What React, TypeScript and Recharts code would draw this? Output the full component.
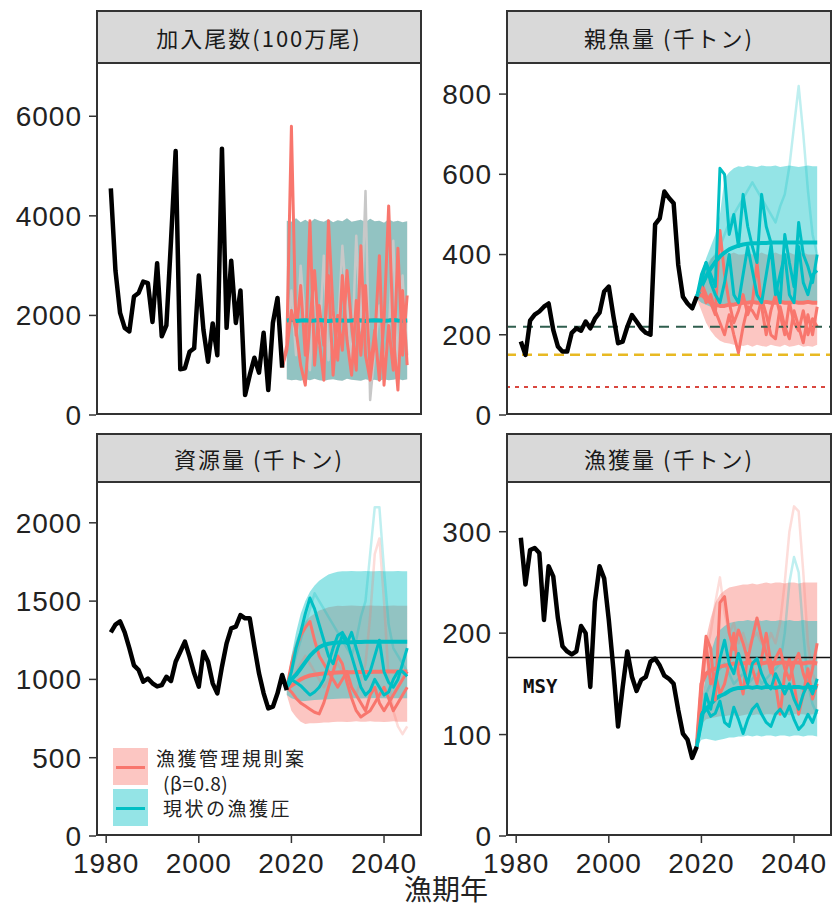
import React from "react";
import { ComposedChart, Line, Area, XAxis, YAxis, ReferenceLine } from "recharts";

const RED = "#F8766D";
const CYAN = "#00BFC4";
const SANS = "'Liberation Sans', Arial, sans-serif";
const JP = "'Noto Sans CJK JP', 'Noto Sans CJK SC', sans-serif";

const HIST_FROM = 1981;
const PROJ_FROM = 2019;

// 加入尾数 (100万尾)
const recHist = [4550, 2900, 2050, 1750, 1680, 2380, 2450, 2680, 2650, 1870, 3050, 1580, 1800, 3500, 5300, 920, 940, 1270, 1340, 2800, 1710, 1070, 1840, 1200, 5350, 1750, 3100, 1850, 2500, 400, 800, 1150, 850, 1650, 500, 1850, 2350, 950];
const recBandHi = [3900, 3880, 3950, 3870, 3920, 3860, 3940, 3900, 3880, 3930, 3870, 3910, 3890, 3950, 3880, 3900, 3920, 3870, 3940, 3890, 3900, 3860, 3930, 3880, 3900, 3870, 3890];
const recBandLo = [720, 700, 710, 690, 720, 700, 730, 700, 690, 710, 720, 700, 690, 730, 710, 700, 690, 720, 700, 710, 690, 720, 700, 710, 730, 700, 720];
const recMed = [1900, 1910, 1890, 1900, 1905, 1895, 1900, 1910, 1900, 1890, 1900, 1905, 1900, 1895, 1900, 1910, 1900, 1890, 1900, 1905, 1900, 1895, 1900, 1910, 1900, 1895, 1900];
const recRedUnder = [950, 1400, 5800, 1600, 2600, 1200, 3900, 1000, 2200, 1400, 2800, 800, 2000, 1300, 2900, 1800, 900, 3400, 1200, 700, 1500, 3200, 600, 1800, 900, 3350, 1200, 2400]; // from 2018
const recRedTop = [950, 1300, 2100, 1700, 1000, 600, 1900, 2900, 1500, 700, 3900, 2100, 1100, 2800, 1500, 800, 2300, 1200, 2600, 900, 1700, 700, 1900, 4200, 1600, 500, 2500, 1000]; // from 2018
const recFaint = [1500, 2500, 1200, 3000, 1800, 900, 2600, 1400, 3200, 1100, 2000, 1600, 3400, 2200, 1000, 3600, 1700, 4500, 300, 1300, 2200, 1000, 1600, 3500, 900, 2800, 1200];

// 親魚量 (千トン)
const ssbHist = [183, 150, 235, 250, 258, 270, 278, 212, 171, 158, 158, 205, 216, 210, 233, 216, 240, 255, 308, 320, 246, 179, 183, 220, 249, 233, 216, 205, 200, 475, 490, 557, 541, 528, 374, 295, 278, 266, 295];
const ssbRedHi = [300, 340, 370, 390, 400, 400, 405, 400, 405, 400, 400, 405, 400, 400, 405, 400, 400, 405, 400, 400, 405, 400, 400, 405, 400, 400, 400];
const ssbRedLo = [290, 260, 230, 210, 195, 185, 180, 178, 175, 175, 172, 175, 170, 175, 172, 170, 175, 172, 170, 175, 170, 172, 175, 170, 172, 170, 175];
const ssbCyanHi = [300, 350, 390, 420, 450, 500, 590, 605, 615, 620, 618, 622, 620, 618, 622, 620, 620, 622, 618, 620, 622, 620, 618, 620, 622, 620, 620];
const ssbCyanLo = [290, 280, 275, 270, 268, 270, 272, 275, 275, 278, 280, 280, 282, 280, 280, 282, 280, 280, 282, 280, 280, 282, 280, 280, 282, 280, 280];
const ssbRedMed = [295, 300, 290, 280, 275, 272, 272, 275, 275, 278, 280, 280, 282, 280, 280, 282, 280, 280, 282, 280, 280, 282, 280, 280, 282, 280, 280];
const ssbCyanMed = [295, 320, 345, 365, 382, 395, 405, 413, 418, 422, 425, 427, 428, 428, 429, 429, 430, 430, 430, 430, 430, 430, 430, 430, 430, 430, 430];
const ssbRedUnder = [295, 330, 300, 280, 250, 460, 350, 280, 230, 260, 300, 250, 280, 380, 270, 200, 260, 300, 250, 200, 280, 230, 210, 260, 200, 240, 220];
const ssbRedTop = [295, 320, 280, 300, 260, 230, 200, 250, 200, 155, 220, 270, 260, 240, 290, 250, 200, 190, 270, 220, 190, 260, 220, 180, 250, 200, 270];
const ssbCyanA = [295, 330, 380, 350, 320, 615, 600, 450, 500, 420, 550, 470, 420, 380, 550, 470, 430, 330, 280, 450, 380, 320, 480, 400, 370, 330, 400];
const ssbCyanB = [295, 350, 380, 330, 300, 280, 330, 400, 300, 280, 350, 420, 360, 300, 280, 350, 420, 300, 350, 400, 300, 280, 420, 330, 300, 350, 360];
const ssbFaint = [295, 320, 350, 380, 400, 420, 450, 480, 500, 520, 540, 560, 580, 560, 540, 520, 500, 480, 520, 550, 620, 720, 820, 700, 560, 450, 400];

// 資源量 (千トン)
const bioHist = [1300, 1350, 1370, 1300, 1200, 1090, 1060, 985, 1006, 975, 955, 964, 1017, 990, 1113, 1177, 1241, 1145, 1039, 954, 1177, 1113, 975, 911, 1081, 1230, 1326, 1337, 1411, 1390, 1390, 1209, 1039, 911, 815, 826, 911, 1028, 932];
const bioRedHi = [960, 1150, 1250, 1320, 1370, 1400, 1420, 1440, 1450, 1460, 1465, 1470, 1468, 1470, 1472, 1470, 1468, 1470, 1472, 1470, 1470, 1468, 1470, 1472, 1470, 1470, 1470];
const bioRedLo = [900, 800, 760, 730, 715, 720, 720, 722, 725, 725, 728, 730, 730, 728, 730, 732, 730, 730, 732, 730, 730, 728, 730, 732, 730, 730, 730];
const bioCyanHi = [960, 1150, 1300, 1420, 1500, 1560, 1600, 1630, 1650, 1670, 1680, 1688, 1690, 1690, 1692, 1690, 1690, 1692, 1690, 1690, 1692, 1690, 1690, 1690, 1692, 1690, 1690];
const bioCyanLo = [900, 880, 870, 860, 862, 865, 868, 870, 872, 874, 875, 876, 878, 878, 880, 880, 878, 880, 880, 882, 880, 880, 878, 880, 880, 880, 880];
const bioRedMed = [940, 960, 980, 1000, 1015, 1025, 1030, 1035, 1038, 1040, 1042, 1044, 1045, 1046, 1046, 1047, 1048, 1048, 1048, 1049, 1049, 1050, 1050, 1050, 1050, 1050, 1050];
const bioCyanMed = [950, 1000, 1030, 1070, 1110, 1150, 1180, 1205, 1220, 1228, 1232, 1235, 1237, 1238, 1238, 1239, 1239, 1240, 1240, 1240, 1240, 1240, 1240, 1240, 1240, 1240, 1240];
const bioRedUnder = [950, 1100, 1200, 1280, 1330, 1370, 1250, 1150, 1100, 1050, 1000, 950, 1000, 1050, 950, 900, 850, 800, 900, 950, 850, 800, 850, 900, 950, 1000, 1050];
const bioRedTop = [950, 920, 880, 850, 830, 810, 790, 780, 850, 950, 1050, 1150, 1100, 980, 880, 800, 760, 780, 800, 850, 900, 950, 880, 800, 850, 900, 950];
const bioCyanA = [950, 1050, 1200, 1300, 1420, 1520, 1450, 1350, 1250, 1150, 1100, 1200, 1280, 1230, 1300, 1200, 1100, 1000, 1050, 1150, 1250, 1050, 980, 950, 1000, 1100, 1200];
const bioCyanB = [950, 1000, 980, 960, 930, 900, 920, 950, 1000, 1100, 1200, 1280, 1300, 1250, 1150, 1050, 950, 900, 930, 1000, 950, 900, 920, 1000, 1050, 1050, 1020];
const bioFaintCyan = [950, 1050, 1150, 1250, 1350, 1450, 1550, 1500, 1450, 1400, 1350, 1300, 1250, 1200, 1150, 1250, 1400, 1500, 1800, 2100, 2100, 1700, 1350, 1200, 1150, 1100, 1050];
const bioFaintRed = [950, 1000, 1050, 1100, 1150, 1100, 1050, 1000, 950, 1000, 1050, 1100, 1050, 1000, 950, 900, 1000, 1100, 1400, 1800, 1900, 1500, 1000, 800, 700, 650, 700];

// 漁獲量 (千トン)
const catchHist = [294, 248, 282, 284, 279, 213, 266, 256, 215, 187, 182, 179, 182, 207, 200, 147, 231, 266, 254, 213, 164, 108, 147, 182, 157, 143, 154, 157, 172, 175, 168, 158, 155, 150, 124, 101, 95, 77, 88];
const catchRedHi = [88, 160, 195, 215, 230, 238, 242, 245, 246, 247, 248, 248, 249, 248, 249, 250, 249, 250, 250, 249, 250, 250, 249, 250, 250, 250, 250];
const catchRedLo = [88, 110, 115, 116, 117, 118, 118, 119, 119, 118, 119, 120, 119, 120, 119, 120, 120, 119, 120, 120, 119, 120, 120, 120, 119, 120, 120];
const catchCyanHi = [88, 130, 160, 180, 195, 203, 207, 210, 211, 212, 212, 213, 212, 213, 212, 213, 212, 212, 213, 212, 213, 212, 212, 213, 212, 212, 212];
const catchCyanLo = [88, 95, 96, 95, 94, 95, 96, 97, 97, 98, 98, 99, 98, 99, 98, 99, 99, 98, 99, 99, 98, 99, 99, 98, 99, 99, 98];
const catchRedMed = [88, 150, 160, 163, 165, 167, 168, 169, 170, 170, 170, 171, 170, 171, 170, 171, 171, 170, 171, 171, 170, 171, 171, 170, 171, 171, 170];
const catchCyanMed = [88, 120, 125, 130, 135, 138, 140, 143, 145, 146, 146, 147, 146, 147, 146, 147, 147, 146, 147, 147, 146, 147, 147, 146, 147, 147, 146];
const catchRedTop = [88, 150, 197, 185, 134, 230, 236, 200, 184, 203, 190, 174, 195, 215, 195, 180, 161, 175, 184, 165, 154, 170, 180, 160, 147, 165, 190];
const catchRedUnder = [88, 140, 190, 150, 160, 140, 150, 170, 200, 160, 140, 180, 165, 150, 175, 200, 170, 150, 120, 160, 175, 150, 120, 140, 165, 135, 150];
const catchCyanA = [88, 110, 140, 125, 150, 175, 193, 170, 160, 180, 165, 150, 170, 175, 160, 150, 145, 160, 150, 140, 150, 135, 125, 140, 150, 140, 155];
const catchCyanB = [88, 120, 127, 118, 121, 133, 112, 108, 127, 115, 101, 115, 125, 130, 120, 112, 108, 120, 125, 118, 128, 115, 105, 110, 120, 112, 125];
const catchFaintRed = [88, 150, 180, 200, 230, 255, 220, 200, 210, 190, 200, 185, 195, 200, 190, 185, 200, 190, 210, 250, 300, 325, 320, 260, 190, 160, 150];
const catchFaintCyan = [88, 120, 140, 150, 160, 165, 170, 160, 150, 155, 160, 150, 155, 160, 150, 155, 160, 165, 170, 200, 250, 275, 260, 200, 150, 130, 120];

const MSY = 176;
const SSB_TARGET = 220;
const SSB_LIMIT = 150;
const SSB_BAN = 70;

type Track = [string, number, number[]];
type Band = [string, number, number[], number[]];

function buildRows(tracks: Track[], bands: Band[]) {
  const byYear = new Map<number, Record<string, any>>();
  const at = (yr: number) => {
    if (!byYear.has(yr)) byYear.set(yr, { year: yr });
    return byYear.get(yr)!;
  };
  tracks.forEach(([key, from, vals]) => vals.forEach((v, i) => { at(from + i)[key] = v; }));
  bands.forEach(([key, from, lo, hi]) => lo.forEach((v, i) => { at(from + i)[key] = [v, hi[i]]; }));
  return [...byYear.values()].sort((a, b) => a.year - b.year);
}

const recRows = buildRows(
  [["hist", HIST_FROM, recHist], ["redMed", PROJ_FROM, recMed], ["cyanMed", PROJ_FROM, recMed],
   ["redUnder", 2018, recRedUnder], ["redTop", 2018, recRedTop], ["faintGrey", PROJ_FROM, recFaint]],
  [["redBand", PROJ_FROM, recBandLo, recBandHi], ["cyanBand", PROJ_FROM, recBandLo, recBandHi]]
);
const ssbRows = buildRows(
  [["hist", HIST_FROM, ssbHist], ["redMed", PROJ_FROM, ssbRedMed], ["cyanMed", PROJ_FROM, ssbCyanMed],
   ["redUnder", PROJ_FROM, ssbRedUnder], ["redTop", PROJ_FROM, ssbRedTop],
   ["cyanA", PROJ_FROM, ssbCyanA], ["cyanB", PROJ_FROM, ssbCyanB], ["faintCyan", PROJ_FROM, ssbFaint]],
  [["redBand", PROJ_FROM, ssbRedLo, ssbRedHi], ["cyanBand", PROJ_FROM, ssbCyanLo, ssbCyanHi]]
);
const bioRows = buildRows(
  [["hist", HIST_FROM, bioHist], ["redMed", PROJ_FROM, bioRedMed], ["cyanMed", PROJ_FROM, bioCyanMed],
   ["redUnder", PROJ_FROM, bioRedUnder], ["redTop", PROJ_FROM, bioRedTop],
   ["cyanA", PROJ_FROM, bioCyanA], ["cyanB", PROJ_FROM, bioCyanB],
   ["faintCyan", PROJ_FROM, bioFaintCyan], ["faintRed", PROJ_FROM, bioFaintRed]],
  [["redBand", PROJ_FROM, bioRedLo, bioRedHi], ["cyanBand", PROJ_FROM, bioCyanLo, bioCyanHi]]
);
const catchRows = buildRows(
  [["hist", HIST_FROM, catchHist], ["redMed", PROJ_FROM, catchRedMed], ["cyanMed", PROJ_FROM, catchCyanMed],
   ["redUnder", PROJ_FROM, catchRedUnder], ["redTop", PROJ_FROM, catchRedTop],
   ["cyanA", PROJ_FROM, catchCyanA], ["cyanB", PROJ_FROM, catchCyanB],
   ["faintCyan", PROJ_FROM, catchFaintCyan], ["faintRed", PROJ_FROM, catchFaintRed]],
  [["redBand", PROJ_FROM, catchRedLo, catchRedHi], ["cyanBand", PROJ_FROM, catchCyanLo, catchCyanHi]]
);

const line = (key: string, color: string, width: number, opacity = 1) => (
  <Line key={key} dataKey={key} type="linear" stroke={color} strokeWidth={width} strokeOpacity={opacity}
    strokeLinejoin="round" dot={false} activeDot={false} isAnimationActive={false} />
);
const band = (key: string, color: string) => (
  <Area key={key} dataKey={key} type="linear" stroke="none" fill={color} fillOpacity={0.42}
    dot={false} activeDot={false} isAnimationActive={false} />
);

const layers = (refs: React.ReactNode[] = []) => [
  line("faintGrey", "#C8C8C8", 2.5),
  line("faintRed", RED, 2.5, 0.25),
  line("faintCyan", CYAN, 2.5, 0.25),
  band("redBand", RED),
  line("redUnder", RED, 3),
  band("cyanBand", CYAN),
  ...refs,
  line("redMed", RED, 4),
  line("cyanMed", CYAN, 4),
  line("redTop", RED, 3),
  line("cyanA", CYAN, 3),
  line("cyanB", CYAN, 3),
  line("hist", "#000", 4.5),
];

const PLOT_W = 326;
const tickFont = { fontSize: 28, fill: "#222", fontFamily: SANS, letterSpacing: 1 };

type PanelProps = {
  px: number; py: number; ph: number; stripH: number; title: string;
  rows: any[]; yMax: number; yTicks: number[]; showX: boolean; refs?: React.ReactNode[];
};

function Panel({ px, py, ph, stripH, title, rows, yMax, yTicks, showX, refs }: PanelProps) {
  const bottom = showX ? 50 : 20;
  return (
    <>
      <div style={{ position: "absolute", left: px - 96, top: py - 10 }}>
        <ComposedChart width={96 + PLOT_W + 4} height={10 + ph + bottom} data={rows}
          margin={{ top: 10, right: 4, bottom: showX ? 5 : 20, left: 0 }}>
          <XAxis type="number" dataKey="year" domain={[1977.8, 2048.2]} ticks={[1980, 2000, 2020, 2040]}
            allowDataOverflow hide={!showX} height={45} tickSize={7} tickMargin={10} axisLine={false}
            tickLine={{ stroke: "#333", strokeWidth: 1.5 }} tick={tickFont} />
          <YAxis type="number" domain={[0, yMax]} ticks={yTicks} allowDataOverflow width={96}
            tickSize={7} tickMargin={7} axisLine={false} tickLine={{ stroke: "#333", strokeWidth: 1.5 }} tick={tickFont} />
          {layers(refs)}
        </ComposedChart>
      </div>
      <div style={{ position: "absolute", left: px, top: py, width: PLOT_W, height: ph, boxSizing: "border-box",
        border: "2px solid #333", pointerEvents: "none" }} />
      <div style={{ position: "absolute", left: px, top: py - stripH, width: PLOT_W, height: stripH + 2,
        boxSizing: "border-box", border: "2px solid #333", background: "#D9D9D9", display: "flex",
        alignItems: "center", justifyContent: "center", fontFamily: JP, fontSize: 22, letterSpacing: 2, color: "#1a1a1a" }}>
        {title}
      </div>
    </>
  );
}

const ssbRefs = [
  <ReferenceLine key="target" y={SSB_TARGET} stroke="#2F5E4E" strokeWidth={2} strokeDasharray="10 7" />,
  <ReferenceLine key="limit" y={SSB_LIMIT} stroke="#E8B923" strokeWidth={2.5} strokeDasharray="10 6" />,
  <ReferenceLine key="ban" y={SSB_BAN} stroke="#D9473F" strokeWidth={2} strokeDasharray="4 5" />,
];

const catchRefs = [
  <ReferenceLine key="msy" y={MSY} stroke="#111" strokeWidth={1.5}
    label={(p: any) => (
      <text x={p.viewBox.x + 17} y={p.viewBox.y + 36} fontFamily="'DejaVu Sans Mono', monospace"
        fontWeight="bold" fontSize={19} fill="#111">MSY</text>
    )} />,
];

function LegendBox() {
  const key = (top: number, color: string) => (
    <div style={{ position: "absolute", left: 0, top, width: 35, height: 37, background: color, opacity: 0.42 }} />
  );
  const mark = (top: number, color: string) => (
    <div style={{ position: "absolute", left: 3, top, width: 29, height: 3, background: color }} />
  );
  const txt = { position: "absolute" as const, fontFamily: JP, fontSize: 19, letterSpacing: 2.5, color: "#222", whiteSpace: "nowrap" as const, lineHeight: "22px" };
  return (
    <div style={{ position: "absolute", left: 113, top: 748 }}>
      {key(0, RED)}
      {mark(18, RED)}
      {key(41, CYAN)}
      {mark(59, CYAN)}
      <div style={{ ...txt, left: 43, top: -1 }}>漁獲管理規則案</div>
      <div style={{ ...txt, left: 50, top: 24, letterSpacing: 0.5 }}>(β=0.8)</div>
      <div style={{ ...txt, left: 50, top: 49 }}>現状の漁獲圧</div>
    </div>
  );
}

export default function App() {
  return (
    <div style={{ position: "absolute", left: 0, top: 0, width: 836, height: 918, background: "#fff", overflow: "hidden" }}>
      <Panel px={96} py={62} ph={353} stripH={52} title="加入尾数(100万尾)" rows={recRows}
        yMax={7090} yTicks={[0, 2000, 4000, 6000]} showX={false} />
      <Panel px={506} py={62} ph={353} stripH={52} title="親魚量 (千トン)" rows={ssbRows}
        yMax={880} yTicks={[0, 200, 400, 600, 800]} showX={false} refs={ssbRefs} />
      <Panel px={96} py={481} ph={355} stripH={48} title="資源量 (千トン)" rows={bioRows}
        yMax={2267} yTicks={[0, 500, 1000, 1500, 2000]} showX />
      <Panel px={506} py={481} ph={355} stripH={48} title="漁獲量 (千トン)" rows={catchRows}
        yMax={350} yTicks={[0, 100, 200, 300]} showX refs={catchRefs} />
      <LegendBox />
      <div style={{ position: "absolute", left: 446, top: 888, transform: "translate(-50%, -50%)",
        fontFamily: JP, fontSize: 28, color: "#222", whiteSpace: "nowrap" }}>漁期年</div>
    </div>
  );
}
